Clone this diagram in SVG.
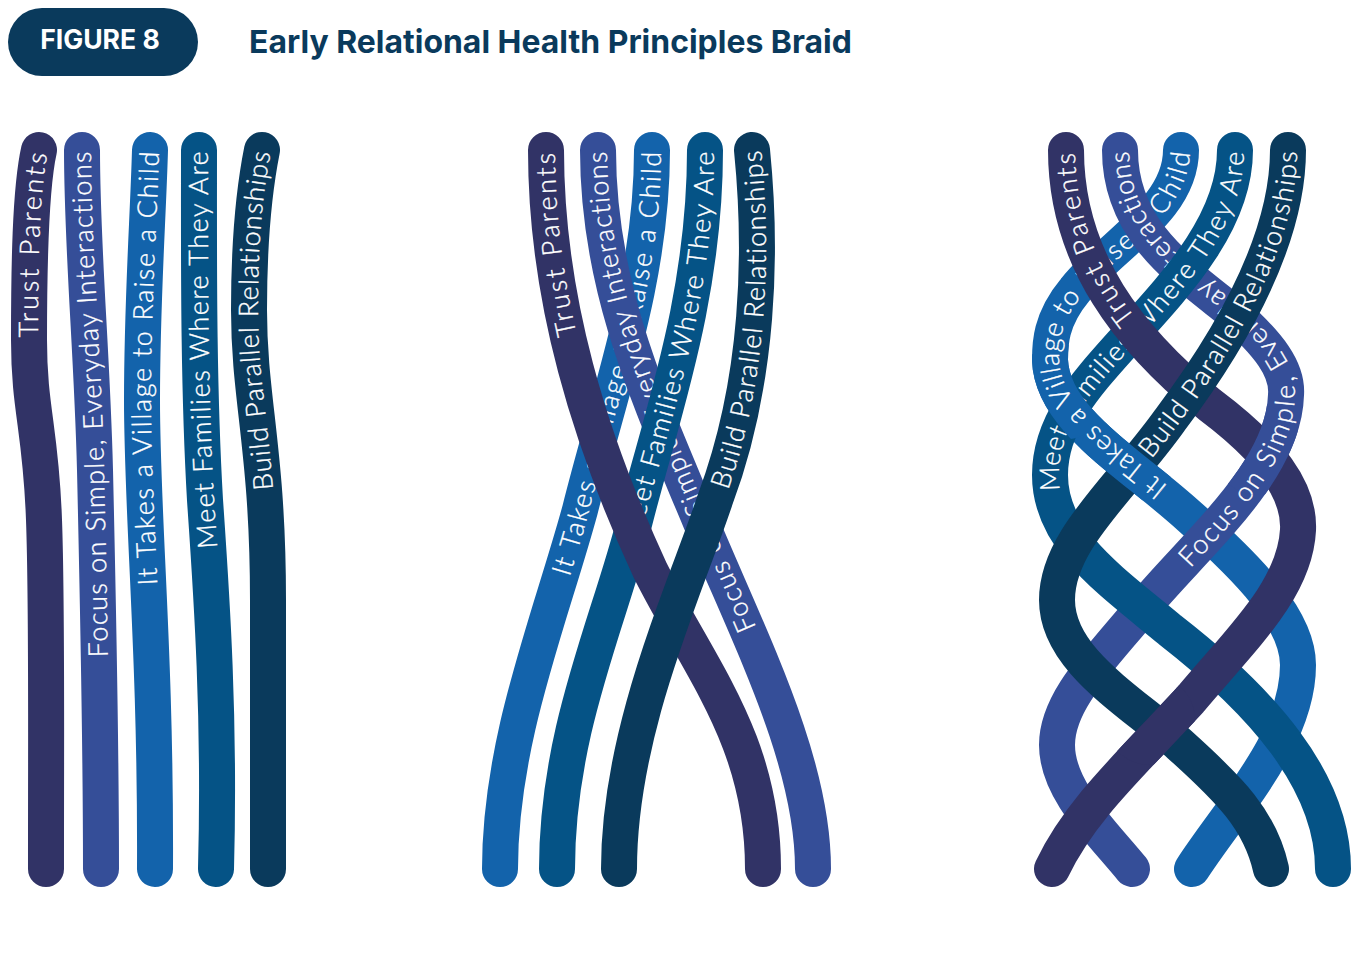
<svg xmlns="http://www.w3.org/2000/svg" width="1353" height="973" viewBox="0 0 1353 973">
<style>
.s{fill:none;stroke-width:36;stroke-linecap:round;stroke-linejoin:round}
.t{font-family:"Lato","Noto Sans",sans-serif;font-weight:300;font-size:27px;fill:#fff;stroke:#fff;stroke-width:.35px;text-anchor:end}
.l1{letter-spacing:2.8px}.l2{letter-spacing:1.45px}.l3{letter-spacing:1.7px}.l4{letter-spacing:1.5px}.l5{letter-spacing:1.2px}
.purple{stroke:#313366}.indigo{stroke:#354e98}.blue{stroke:#1363ab}.teal{stroke:#055386}.navy{stroke:#0a3a5c}
</style>
<defs>
<clipPath id="c-trust"><circle cx="1150" cy="720" r="45"/></clipPath>
<clipPath id="c-village"><circle cx="1062" cy="392" r="48"/><circle cx="1128" cy="455" r="48"/></clipPath>
<clipPath id="c-focus"><circle cx="1258" cy="450" r="45"/></clipPath>
</defs>
<rect width="1353" height="973" fill="#fff"/>
<g id="badge"><rect x="8" y="8" width="190" height="68" rx="34" fill="#0a3a5c"/><text x="100" y="49" text-anchor="middle" font-family="Inter,sans-serif" font-weight="700" font-size="26.6" fill="#fff">FIGURE 8</text></g>
<text id="title" x="249" y="53" font-family="Inter,sans-serif" font-weight="700" font-size="31.95" fill="#0a3a5c">Early Relational Health Principles Braid</text>
<g id="panel-1">
<g id="p1-trust"><path id="a1" class="s purple" d="M46,869 C46,700 47,600 44,520 C41,430 29,410 29,340 C29,270 30,190 39,150"/><text class="t l1" dy="9"><textPath href="#a1" startOffset="100%">Trust Parents</textPath></text></g>
<g id="p1-focus"><path id="a2" class="s indigo" d="M101,869 C101,750 98,600 95,470 C92,350 82,250 82,150"/><text class="t l2" dy="9"><textPath href="#a2" startOffset="100%">Focus on Simple, Everyday Interactions</textPath></text></g>
<g id="p1-village"><path id="a3" class="s blue" d="M155,869 C156,650 142,520 142,400 C142,300 148,220 150,150"/><text class="t l3" dy="9"><textPath href="#a3" startOffset="100%">It Takes a Village to Raise a Child</textPath></text></g>
<g id="p1-families"><path id="a4" class="s teal" d="M216,869 C220,720 212,600 205,500 C198,380 199,250 199,150"/><text class="t l4" dy="9"><textPath href="#a4" startOffset="100%">Meet Families Where They Are</textPath></text></g>
<g id="p1-build"><path id="a5" class="s navy" d="M268,869 L268,600 C268,450 249,400 249,310 C249,250 252,200 262,150"/><text class="t l5" dy="9"><textPath href="#a5" startOffset="100%">Build Parallel Relationships</textPath></text></g>
</g>
<g id="panel-2">
<g id="p2-village"><path id="b3" class="s blue" d="M500,869 C500,740 550,620 580,510 C610,390 652,280 652,150"/><text class="t l3" dy="9"><textPath href="#b3" startOffset="100%">It Takes a Village to Raise a Child</textPath></text></g>
<g id="p2-focus"><path id="b2" class="s indigo" d="M813,869 C813,760 750,640 700,520 C650,400 598,290 598,150"/><text class="t l2" dy="9"><textPath href="#b2" startOffset="100%">Focus on Simple, Everyday Interactions</textPath></text></g>
<g id="p2-families"><path id="b4" class="s teal" d="M557,869 C557,730 610,620 635,520 C660,420 705,300 705,150"/><text class="t l4" dy="9"><textPath href="#b4" startOffset="100%">Meet Families Where They Are</textPath></text></g>
<g id="p2-trust"><path id="b1" class="s purple" d="M763,869 C763,740 700,670 650,570 C590,440 546,300 546,150"/><text class="t l1" dy="9"><textPath href="#b1" startOffset="100%">Trust Parents</textPath></text></g>
<g id="p2-build"><path id="b5" class="s navy" d="M619,869 C619,730 685,590 715,500 C760,380 762,250 752,150"/><text class="t l5" dy="9"><textPath href="#b5" startOffset="100%">Build Parallel Relationships</textPath></text></g>
</g>
<g id="panel-3">
<g id="p3-village"><path id="d3" class="s blue" d="M1192,869 C1230,810 1298,740 1298,665 C1298,620 1250,570 1190,517 C1130,462 1052,420 1050,360 C1050,345 1050,320 1075,290 C1110,245 1181,210 1181,150"/><text class="t l3" dy="9"><textPath href="#d3" startOffset="100%">It Takes a Village to Raise a Child</textPath></text></g>
<g id="p3-focus"><path id="d2" class="s indigo" d="M1132,869 C1100,830 1057,790 1057,745 C1057,700 1100,660 1145,605 C1200,540 1284,470 1286,395 C1288,370 1270,345 1230,310 C1180,270 1120,230 1120,150"/><text class="t l2" dy="9"><textPath href="#d2" startOffset="100%">Focus on Simple, Everyday Interactions</textPath></text></g>
<g id="p3-families"><path id="d4" class="s teal" d="M1333,869 C1333,780 1260,700 1170,630 C1110,580 1050,540 1050,475 C1050,420 1090,380 1130,335 C1180,280 1235,220 1235,150"/><text class="t l4" dy="9"><textPath href="#d4" startOffset="100%">Meet Families Where They Are</textPath></text></g>
<g id="p3-trust"><path id="d1" class="s purple" d="M1052,869 C1080,810 1130,765 1190,700 C1240,640 1295,590 1298,530 C1300,490 1270,450 1210,405 C1130,340 1066,260 1066,150"/><text class="t l1" dy="9"><textPath href="#d1" startOffset="100%">Trust Parents</textPath></text></g>
<g id="p3-build"><path id="d5" class="s navy" d="M1271,869 C1260,820 1230,790 1180,745 C1130,700 1057,660 1057,600 C1057,540 1120,490 1170,420 C1230,340 1288,240 1288,150"/><text class="t l5" dy="9"><textPath href="#d5" startOffset="100%">Build Parallel Relationships</textPath></text></g>
<use href="#p3-trust" clip-path="url(#c-trust)"/>
<use href="#p3-village" clip-path="url(#c-village)"/>
<use href="#p3-focus" clip-path="url(#c-focus)"/>
</g>
</svg>
